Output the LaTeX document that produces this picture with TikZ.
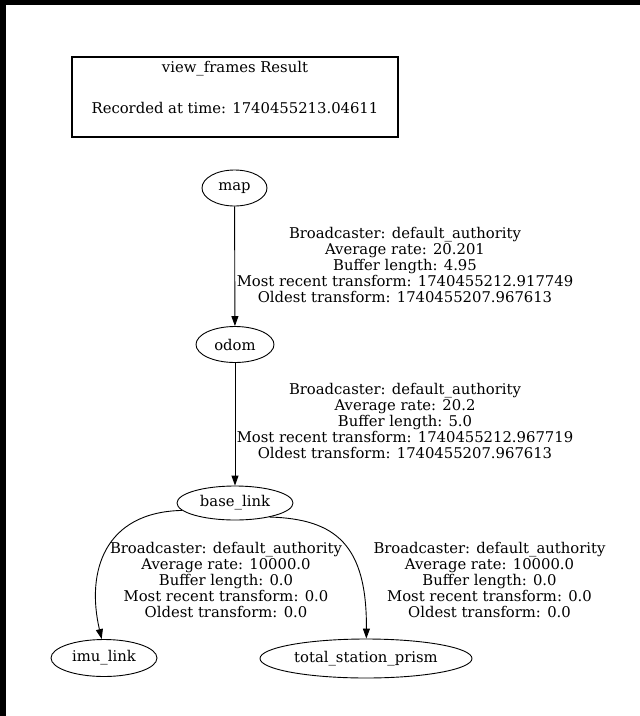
\documentclass[tikz,border=0pt]{standalone}
\usepackage{fontspec}
\setmainfont{DejaVu Serif}
\usetikzlibrary{shapes.geometric,arrows.meta}
\tikzset{
  frame/.style={ellipse,draw,line width=0.9pt,inner sep=0pt},
  edge/.style={draw,line width=0.9pt,-{Triangle[length=10pt,width=7pt]}},
  lbl/.style={align=center,inner sep=0pt,font=\fontsize{14.8}{16}\selectfont},
}
\begin{document}
\begin{tikzpicture}[x=1pt,y=-1pt,font=\fontsize{14.8}{16}\selectfont]
\useasboundingbox (0,0) rectangle (640,716);
\fill[white] (0,0) rectangle (640,716);
\fill[black] (0,0) rectangle (640,5);
\fill[black] (0,0) rectangle (6,716);
% title box
\node[draw,line width=2pt,minimum width=326pt,minimum height=80pt,inner sep=0pt] (title) at (235,97) {};
\node[inner sep=0pt] (t1) at (235,69) {view\_frames Result};
\node[inner sep=0pt] (t2) at (235,108) {Recorded at time: 1740455213.04611};
% frames
\node[frame,minimum width=65pt,minimum height=36pt,label=center:map] (map) at (234.5,188) {};
\node[frame,minimum width=78pt,minimum height=36pt,label=center:odom] (odom) at (235,344.5) {};
\node[frame,minimum width=116pt,minimum height=34pt,label=center:base\_link] (bl) at (235,503) {};
\node[frame,minimum width=106pt,minimum height=37pt,label=center:imu\_link] (imu) at (104,658) {};
\node[frame,minimum width=212pt,minimum height=39pt,label=center:total\_station\_prism] (tsp) at (366,658.5) {};
% edges
\draw[edge] (map) -- (odom);
\draw[edge] (odom) -- (bl);
\draw[edge] (bl.188) .. controls (104,512) and (86,572) .. (imu.97);
\draw[edge] (bl.-22) .. controls (336,519) and (367,545) .. (tsp.89);
% labels
\node[lbl] (l1) at (405,265) {Broadcaster: default\_authority\\Average rate: 20.201\\Buffer length: 4.95\\Most recent transform: 1740455212.917749\\Oldest transform: 1740455207.967613};
\node[lbl] (l2) at (405,421) {Broadcaster: default\_authority\\Average rate: 20.2\\Buffer length: 5.0\\Most recent transform: 1740455212.967719\\Oldest transform: 1740455207.967613};
\node[lbl] (l3) at (226,580) {Broadcaster: default\_authority\\Average rate: 10000.0\\Buffer length: 0.0\\Most recent transform: 0.0\\Oldest transform: 0.0};
\node[lbl] (l4) at (489.5,580) {Broadcaster: default\_authority\\Average rate: 10000.0\\Buffer length: 0.0\\Most recent transform: 0.0\\Oldest transform: 0.0};
\end{tikzpicture}
\end{document}
